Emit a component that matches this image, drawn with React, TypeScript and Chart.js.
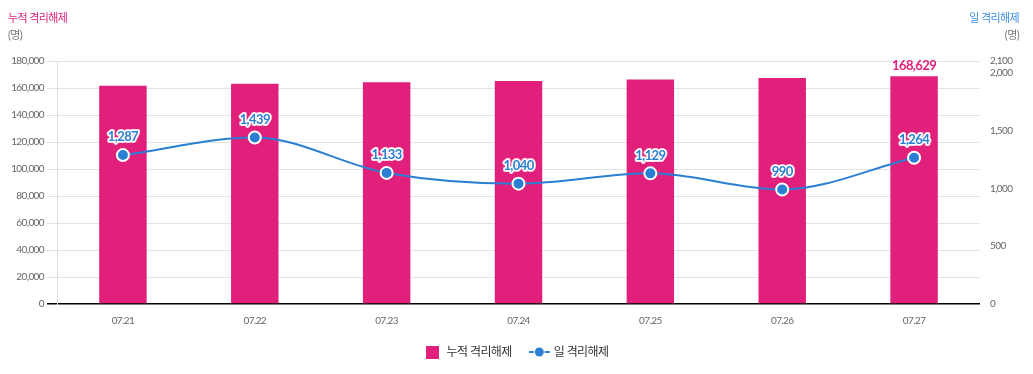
import React, { useEffect, useRef } from 'react';
import { Chart, registerables } from 'chart.js';

Chart.register(...registerables);

const categories = ['07.21', '07.22', '07.23', '07.24', '07.25', '07.26', '07.27'];
const cumulativeReleased = [161634, 163073, 164206, 165246, 166375, 167365, 168629];
const dailyReleased = [1287, 1439, 1133, 1040, 1129, 990, 1264];
const rightTicks = [0, 500, 1000, 1500, 2000, 2100];
const seriesNames = ['누적 격리해제', '일 격리해제'];
const unitLabel = '(명)';

const PINK = '#e0207a';
const BLUE = '#2a7fd2';
const FONT = "Lato, 'Noto Sans CJK KR', 'Noto Sans', sans-serif";
const SPACING = '-0.6px';

const fmt = (v: number) => v.toLocaleString('en-US');

export default function App() {
  const ref = useRef<HTMLCanvasElement | null>(null);

  useEffect(() => {
    document.body.style.margin = '0';
    const canvas = ref.current;
    if (!canvas) return;

    const sq = document.createElement('canvas');
    sq.width = 13; sq.height = 13;
    const sc = sq.getContext('2d')!;
    sc.fillStyle = PINK;
    sc.fillRect(0, 0, 13, 13);

    const ln = document.createElement('canvas');
    ln.width = 22; ln.height = 12;
    const lc = ln.getContext('2d')!;
    lc.strokeStyle = BLUE; lc.lineWidth = 2;
    lc.beginPath(); lc.moveTo(0, 6); lc.lineTo(5, 6); lc.moveTo(16, 6); lc.lineTo(21, 6); lc.stroke();
    lc.fillStyle = BLUE;
    lc.beginPath(); lc.arc(10.5, 6, 4.5, 0, Math.PI * 2); lc.fill();

    const spacingPlugin = {
      id: 'spacing',
      beforeUpdate(chart: any) { (chart.ctx as any).letterSpacing = SPACING; },
      beforeDraw(chart: any) { (chart.ctx as any).letterSpacing = SPACING; },
    };

    const titlePlugin = {
      id: 'titles',
      afterDraw(chart: any) {
        const ctx = chart.ctx;
        ctx.save();
        ctx.font = `11px ${FONT}`;
        ctx.textBaseline = 'middle';
        ctx.textAlign = 'left';
        ctx.fillStyle = PINK;
        ctx.fillText(seriesNames[0], 8, 18);
        ctx.fillStyle = '#777';
        ctx.fillText(unitLabel, 8, 35);
        ctx.textAlign = 'right';
        ctx.fillStyle = '#3b8fe0';
        ctx.fillText(seriesNames[1], 1019, 18);
        ctx.fillStyle = '#777';
        ctx.fillText(unitLabel, 1019, 35);
        ctx.restore();
      },
    };

    const labelPlugin = {
      id: 'valueLabels',
      afterDatasetsDraw(chart: any) {
        const ctx = chart.ctx;
        ctx.save();
        ctx.textAlign = 'center';
        ctx.textBaseline = 'middle';
        ctx.lineJoin = 'round';
        const barMeta = chart.getDatasetMeta(0);
        const lastIdx = barMeta.data.length - 1;
        const bar = barMeta.data[lastIdx];
        ctx.font = `bold 13px ${FONT}`;
        ctx.fillStyle = PINK;
        ctx.fillText(fmt(cumulativeReleased[lastIdx]), bar.x, bar.y - 11);

        const lineMeta = chart.getDatasetMeta(1);
        lineMeta.data.forEach((pt: any, i: number) => {
          const t = fmt(dailyReleased[i]);
          ctx.font = `bold 13px ${FONT}`;
          ctx.lineWidth = 4;
          ctx.strokeStyle = 'rgba(255,225,238,0.9)';
          ctx.strokeText(t, pt.x, pt.y - 18);
          ctx.lineWidth = 2.5;
          ctx.strokeStyle = '#ffffff';
          ctx.strokeText(t, pt.x, pt.y - 18);
          ctx.fillStyle = BLUE;
          ctx.fillText(t, pt.x, pt.y - 18);
        });
        ctx.restore();
      },
    };

    const chart = new Chart(canvas, {
      type: 'bar',
      data: {
        labels: categories,
        datasets: [
          {
            type: 'bar',
            label: seriesNames[0],
            data: cumulativeReleased,
            backgroundColor: PINK,
            yAxisID: 'y',
            order: 2,
            categoryPercentage: 1,
            barPercentage: 0.36,
          } as any,
          {
            type: 'line',
            label: seriesNames[1],
            data: dailyReleased,
            borderColor: BLUE,
            backgroundColor: BLUE,
            borderWidth: 2,
            pointRadius: 6,
            pointBorderWidth: 2,
            pointBorderColor: '#ffffff',
            pointBackgroundColor: BLUE,
            cubicInterpolationMode: 'monotone',
            yAxisID: 'y1',
            order: 1,
          } as any,
        ],
      },
      options: {
        responsive: false,
        animation: false,
        devicePixelRatio: 1,
        layout: { padding: { top: 61, left: 0, right: 0, bottom: 6 } },
        plugins: {
          tooltip: { enabled: false },
          legend: {
            position: 'bottom',
            labels: {
              usePointStyle: true,
              pointStyleWidth: 16,
              boxHeight: 13,
              padding: 20,
              color: '#333',
              font: { size: 12, family: FONT },
              generateLabels: () => [
                { text: seriesNames[0], pointStyle: sq, fillStyle: PINK, strokeStyle: PINK, lineWidth: 0, fontColor: '#333', datasetIndex: 0, hidden: false },
                { text: seriesNames[1], pointStyle: ln, fillStyle: BLUE, strokeStyle: BLUE, lineWidth: 0, fontColor: '#333', datasetIndex: 1, hidden: false },
              ] as any,
            },
          },
        },
        scales: {
          x: {
            grid: { display: false, drawTicks: false },
            border: { display: false },
            ticks: { color: '#666', font: { size: 10, family: FONT }, padding: 11 },
            afterFit: (s: any) => { s.height = 22; },
          },
          y: {
            position: 'left',
            min: 0,
            max: 180000,
            ticks: {
              stepSize: 20000,
              color: '#666',
              font: { size: 10, family: FONT },
              padding: 3,
              callback: (v: any) => fmt(Number(v)),
            },
            grid: {
              color: (c: any) => (c.tick && c.tick.value === 0 ? '#000' : '#e3e3e3'),
              lineWidth: (c: any) => (c.tick && c.tick.value === 0 ? 1.5 : 1),
              tickLength: 10,
            },
            border: { display: true, color: '#dcdcdc' },
            afterFit: (s: any) => { s.width = 57; },
          },
          y1: {
            position: 'right',
            min: 0,
            max: 2100,
            afterBuildTicks: (s: any) => { s.ticks = rightTicks.map((v) => ({ value: v })); },
            ticks: {
              autoSkip: false,
              color: '#666',
              font: { size: 10, family: FONT },
              padding: 10,
              callback: (v: any) => fmt(Number(v)),
            },
            grid: { display: false, drawTicks: false },
            border: { display: false },
            afterFit: (s: any) => { s.width = 53; },
          },
        },
      },
      plugins: [spacingPlugin, titlePlugin, labelPlugin],
    } as any);

    return () => chart.destroy();
  }, []);

  return (
    <div style={{ width: 1033, height: 374 }}>
      <canvas ref={ref} width={1033} height={374} style={{ display: 'block' }} />
    </div>
  );
}
